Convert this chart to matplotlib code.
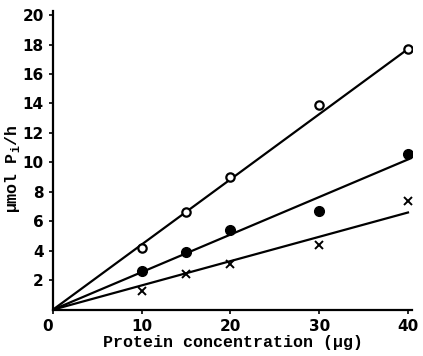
import matplotlib
matplotlib.use("Agg")
import matplotlib.pyplot as plt
import numpy as np

# ---------------------------
# data
# ---------------------------
protein = [10, 15, 20, 30, 40]
open_vals = [4.2, 6.6, 9.0, 13.9, 17.7]
filled_vals = [2.6, 3.9, 5.4, 6.7, 10.6]
cross_vals = [1.3, 2.4, 3.1, 4.4, 7.4]

# fitted lines through the origin (value at 40 ug)
line_x = [0, 40]
open_line = [0, 17.7]
filled_line = [0, 10.2]
cross_line = [0, 6.6]

yticks = [2, 4, 6, 8, 10, 12, 14, 16, 18, 20]
xticks = [0, 10, 20, 30, 40]

# ---------------------------
# plot
# ---------------------------
fig = plt.figure(figsize=(4.23, 3.56), dpi=100)
ax = fig.add_axes([0.125, 0.13, 0.85, 0.84])

ax.plot(line_x, open_line, color="black", lw=1.6)
ax.plot(line_x, filled_line, color="black", lw=1.6)
ax.plot(line_x, cross_line, color="black", lw=1.6)

ax.plot(protein, open_vals, "o", ms=6, mfc="white", mec="black", mew=1.6)
ax.plot(protein, filled_vals, "o", ms=7, color="black")
ax.plot(protein, cross_vals, "x", ms=6, color="black", mew=1.4)

ax.set_xlim(0, 40.5)
ax.set_ylim(0, 20.3)
ax.set_xticks(xticks)
ax.set_yticks(yticks)
ax.tick_params(labelsize=11, width=1.2, length=3, direction="out")
for lab in ax.get_xticklabels() + ax.get_yticklabels():
    lab.set_fontweight("bold")
ax.get_xticklabels()[0].set_horizontalalignment("right")

for side in ["top", "right"]:
    ax.spines[side].set_visible(False)
for side in ["left", "bottom"]:
    ax.spines[side].set_linewidth(1.6)

ax.set_xlabel("Protein concentration (µg)", family="Liberation Mono",
              fontweight="bold", fontsize=12, labelpad=1)
ax.set_ylabel("µmol P$_\\mathregular{i}$/h", family="Liberation Mono",
              fontweight="bold", fontsize=12)
ax.yaxis.set_label_coords(-0.085, 0.47)

fig.savefig("out.png", dpi=100)
